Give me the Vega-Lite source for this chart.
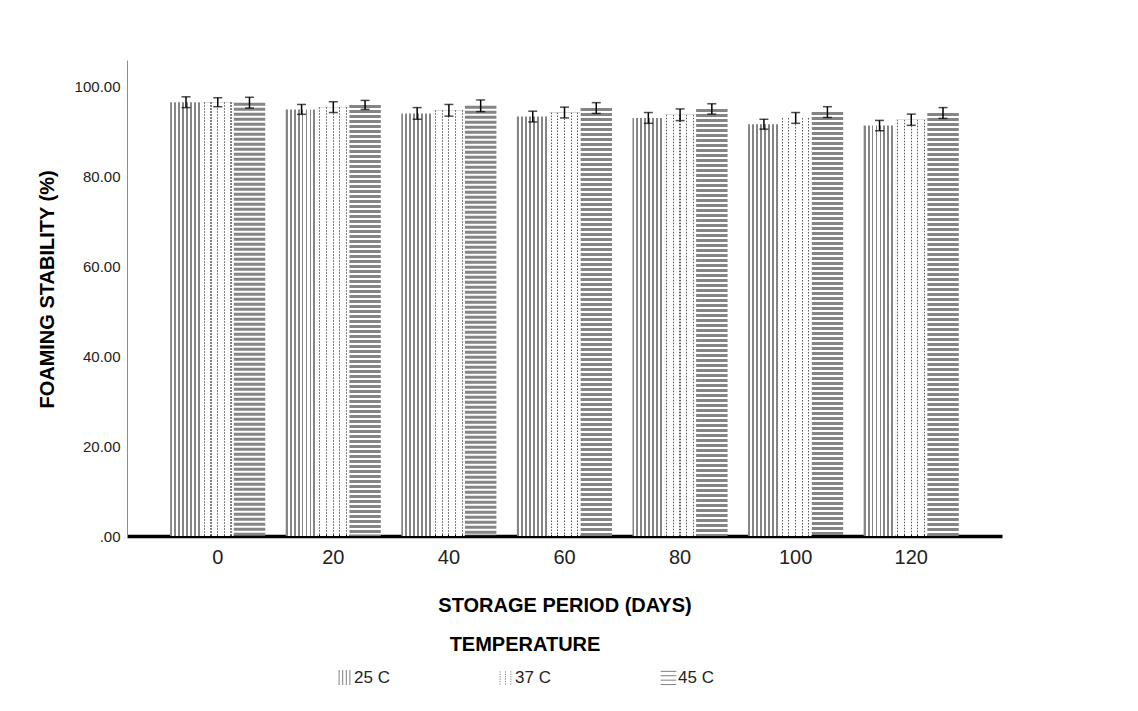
{
  "$schema": "https://vega.github.io/schema/vega-lite/v6.json",
  "width": 875,
  "height": 476,
  "autosize": {"type": "none"},
  "padding": {"left": 127, "top": 60, "right": 136, "bottom": 175},
  "background": "white",
  "config": {"view": {"stroke": null}, "font": "Liberation Sans"},
  "data": {
    "values": [
      {"day": 0, "temp": "25 C", "mean": 96.6, "lo": 95.4, "hi": 97.8},
      {"day": 0, "temp": "37 C", "mean": 96.6, "lo": 95.6, "hi": 97.6},
      {"day": 0, "temp": "45 C", "mean": 96.5, "lo": 95.3, "hi": 97.7},
      {"day": 20, "temp": "25 C", "mean": 95.0, "lo": 93.9, "hi": 96.1},
      {"day": 20, "temp": "37 C", "mean": 95.5, "lo": 94.3, "hi": 96.7},
      {"day": 20, "temp": "45 C", "mean": 96.0, "lo": 95.0, "hi": 97.0},
      {"day": 40, "temp": "25 C", "mean": 94.1, "lo": 92.8, "hi": 95.4},
      {"day": 40, "temp": "37 C", "mean": 94.8, "lo": 93.5, "hi": 96.1},
      {"day": 40, "temp": "45 C", "mean": 95.8, "lo": 94.5, "hi": 97.1},
      {"day": 60, "temp": "25 C", "mean": 93.4, "lo": 92.2, "hi": 94.6},
      {"day": 60, "temp": "37 C", "mean": 94.3, "lo": 93.1, "hi": 95.5},
      {"day": 60, "temp": "45 C", "mean": 95.3, "lo": 94.1, "hi": 96.5},
      {"day": 80, "temp": "25 C", "mean": 93.1, "lo": 91.9, "hi": 94.3},
      {"day": 80, "temp": "37 C", "mean": 93.8, "lo": 92.5, "hi": 95.1},
      {"day": 80, "temp": "45 C", "mean": 95.1, "lo": 93.95, "hi": 96.25},
      {"day": 100, "temp": "25 C", "mean": 91.7, "lo": 90.6, "hi": 92.8},
      {"day": 100, "temp": "37 C", "mean": 93.1, "lo": 91.9, "hi": 94.3},
      {"day": 100, "temp": "45 C", "mean": 94.4, "lo": 93.2, "hi": 95.6},
      {"day": 120, "temp": "25 C", "mean": 91.4, "lo": 90.25, "hi": 92.55},
      {"day": 120, "temp": "37 C", "mean": 92.7, "lo": 91.45, "hi": 93.95},
      {"day": 120, "temp": "45 C", "mean": 94.2, "lo": 93.0, "hi": 95.4}
    ]
  },
  "encoding": {
    "x": {
      "field": "day",
      "type": "ordinal",
      "scale": {"paddingInner": 0.176, "paddingOuter": 0.373},
      "axis": {
        "title": "STORAGE PERIOD (DAYS)",
        "labelAngle": 0,
        "ticks": false,
        "grid": false,
        "domainColor": "black",
        "domainWidth": 3.5,
        "labelFontSize": 20,
        "labelColor": "#222222",
        "labelPadding": 11,
        "titleFontSize": 20,
        "titleFontWeight": "bold",
        "titleColor": "black",
        "titleY": 69,
        "titleBaseline": "middle"
      }
    },
    "xOffset": {
      "field": "temp",
      "type": "nominal",
      "scale": {"domain": ["25 C", "37 C", "45 C"], "paddingInner": 0, "paddingOuter": 0}
    }
  },
  "layer": [
    {
      "transform": [{"filter": "datum.temp == '45 C'"}],
      "mark": {"type": "rule", "strokeWidth": 31.5, "strokeDash": [3, 2], "color": "#858585"},
      "encoding": {
        "y": {
          "field": "mean",
          "type": "quantitative",
          "scale": {"domain": [0, 106], "nice": false},
          "axis": {
            "title": "FOAMING STABILITY (%)",
            "values": [0, 20, 40, 60, 80, 100],
            "labelExpr": "datum.value == 0 ? '.00' : format(datum.value, '.2f')",
            "ticks": false,
            "grid": false,
            "domainColor": "#8c8c8c",
            "domainWidth": 1,
            "labelFontSize": 15,
            "labelColor": "#222222",
            "labelPadding": 7,
            "titleFontSize": 20,
            "titleFontWeight": "bold",
            "titleColor": "black",
            "titleAngle": -90,
            "titleX": -80,
            "titleY": 229,
            "titleAlign": "center",
            "titleBaseline": "middle"
          }
        },
        "y2": {"datum": 0}
      }
    },
    {
      "transform": [{"filter": "datum.temp == '25 C'"}],
      "mark": {
        "type": "bar",
        "fill": {
          "gradient": "linear",
          "x1": 0, "y1": 0, "x2": 1, "y2": 0,
          "stops": [
            {"offset": 0, "color": "#858585"}, {"offset": 0.06, "color": "#858585"},
            {"offset": 0.06, "color": "#ffffff"}, {"offset": 0.125, "color": "#ffffff"},
            {"offset": 0.125, "color": "#858585"}, {"offset": 0.185, "color": "#858585"},
            {"offset": 0.185, "color": "#ffffff"}, {"offset": 0.25, "color": "#ffffff"},
            {"offset": 0.25, "color": "#858585"}, {"offset": 0.31, "color": "#858585"},
            {"offset": 0.31, "color": "#ffffff"}, {"offset": 0.375, "color": "#ffffff"},
            {"offset": 0.375, "color": "#858585"}, {"offset": 0.435, "color": "#858585"},
            {"offset": 0.435, "color": "#ffffff"}, {"offset": 0.5, "color": "#ffffff"},
            {"offset": 0.5, "color": "#858585"}, {"offset": 0.56, "color": "#858585"},
            {"offset": 0.56, "color": "#ffffff"}, {"offset": 0.625, "color": "#ffffff"},
            {"offset": 0.625, "color": "#858585"}, {"offset": 0.685, "color": "#858585"},
            {"offset": 0.685, "color": "#ffffff"}, {"offset": 0.75, "color": "#ffffff"},
            {"offset": 0.75, "color": "#858585"}, {"offset": 0.81, "color": "#858585"},
            {"offset": 0.81, "color": "#ffffff"}, {"offset": 0.875, "color": "#ffffff"},
            {"offset": 0.875, "color": "#858585"}, {"offset": 0.935, "color": "#858585"},
            {"offset": 0.935, "color": "#ffffff"}, {"offset": 1, "color": "#ffffff"}
          ]
        }
      },
      "encoding": {
        "y": {"field": "mean", "type": "quantitative"}
      }
    },
    {
      "transform": [{"filter": "datum.temp == '37 C'"}],
      "mark": {"type": "rule", "strokeWidth": 31, "strokeDash": [1.5, 1.5], "color": "#5a5a5a"},
      "encoding": {
        "y": {"field": "mean", "type": "quantitative"},
        "y2": {"datum": 0}
      }
    },
    {
      "transform": [{"filter": "datum.temp == '37 C'"}],
      "mark": {
        "type": "bar",
        "fill": {
          "gradient": "linear",
          "x1": 0, "y1": 0, "x2": 1, "y2": 0,
          "stops": [
            {"offset": 0, "color": "#ffffff"}, {"offset": 0.06, "color": "#ffffff"},
            {"offset": 0.06, "color": "rgba(255,255,255,0)"}, {"offset": 0.095, "color": "rgba(255,255,255,0)"},
            {"offset": 0.095, "color": "#ffffff"}, {"offset": 0.27, "color": "#ffffff"},
            {"offset": 0.27, "color": "rgba(255,255,255,0)"}, {"offset": 0.305, "color": "rgba(255,255,255,0)"},
            {"offset": 0.305, "color": "#ffffff"}, {"offset": 0.48, "color": "#ffffff"},
            {"offset": 0.48, "color": "rgba(255,255,255,0)"}, {"offset": 0.515, "color": "rgba(255,255,255,0)"},
            {"offset": 0.515, "color": "#ffffff"}, {"offset": 0.69, "color": "#ffffff"},
            {"offset": 0.69, "color": "rgba(255,255,255,0)"}, {"offset": 0.725, "color": "rgba(255,255,255,0)"},
            {"offset": 0.725, "color": "#ffffff"}, {"offset": 0.9, "color": "#ffffff"},
            {"offset": 0.9, "color": "rgba(255,255,255,0)"}, {"offset": 0.935, "color": "rgba(255,255,255,0)"},
            {"offset": 0.935, "color": "#ffffff"}, {"offset": 1, "color": "#ffffff"}
          ]
        }
      },
      "encoding": {
        "y": {"field": "mean", "type": "quantitative"}
      }
    },
    {
      "mark": {"type": "rule", "color": "black", "strokeWidth": 1.5},
      "encoding": {
        "y": {"field": "lo", "type": "quantitative"},
        "y2": {"field": "hi"}
      }
    },
    {
      "mark": {"type": "tick", "color": "black", "thickness": 1.5, "size": 9},
      "encoding": {
        "y": {"field": "lo", "type": "quantitative"}
      }
    },
    {
      "mark": {"type": "tick", "color": "black", "thickness": 1.5, "size": 9},
      "encoding": {
        "y": {"field": "hi", "type": "quantitative"}
      }
    },
    {
      "mark": {"type": "point", "opacity": 0, "filled": false, "color": "#808080"},
      "encoding": {
        "y": {"field": "mean", "type": "quantitative"},
        "shape": {
          "field": "temp",
          "type": "nominal",
          "scale": {
            "domain": ["25 C", "37 C", "45 C"],
            "range": [
              "M-0.9,-1.25V1.25M-0.3,-1.25V1.25M0.3,-1.25V1.25M0.9,-1.25V1.25",
              "M-0.9,-1.1V-0.9M-0.9,-0.7V-0.5M-0.9,-0.3V-0.1M-0.9,0.1V0.3M-0.9,0.5V0.7M-0.9,0.9V1.1M0,-1.1V-0.9M0,-0.7V-0.5M0,-0.3V-0.1M0,0.1V0.3M0,0.5V0.7M0,0.9V1.1M0.9,-1.1V-0.9M0.9,-0.7V-0.5M0.9,-0.3V-0.1M0.9,0.1V0.3M0.9,0.5V0.7M0.9,0.9V1.1",
              "M-1.3,-1.1H1.3M-1.3,-0.37H1.3M-1.3,0.37H1.3M-1.3,1.1H1.3"
            ]
          },
          "legend": {
            "title": "TEMPERATURE",
            "orient": "none",
            "legendX": 209,
            "legendY": 575,
            "direction": "horizontal",
            "columns": 3,
            "columnPadding": 107,
            "padding": 0,
            "titleFontSize": 20,
            "titleFontWeight": "bold",
            "titleColor": "black",
            "titleAnchor": "middle",
            "titlePadding": 14,
            "labelFontSize": 17,
            "labelColor": "#222222",
            "labelOffset": 1,
            "symbolSize": 144,
            "symbolStrokeColor": "#808080",
            "symbolStrokeWidth": 1,
            "symbolFillColor": "transparent",
            "symbolOpacity": 1
          }
        }
      }
    }
  ]
}
